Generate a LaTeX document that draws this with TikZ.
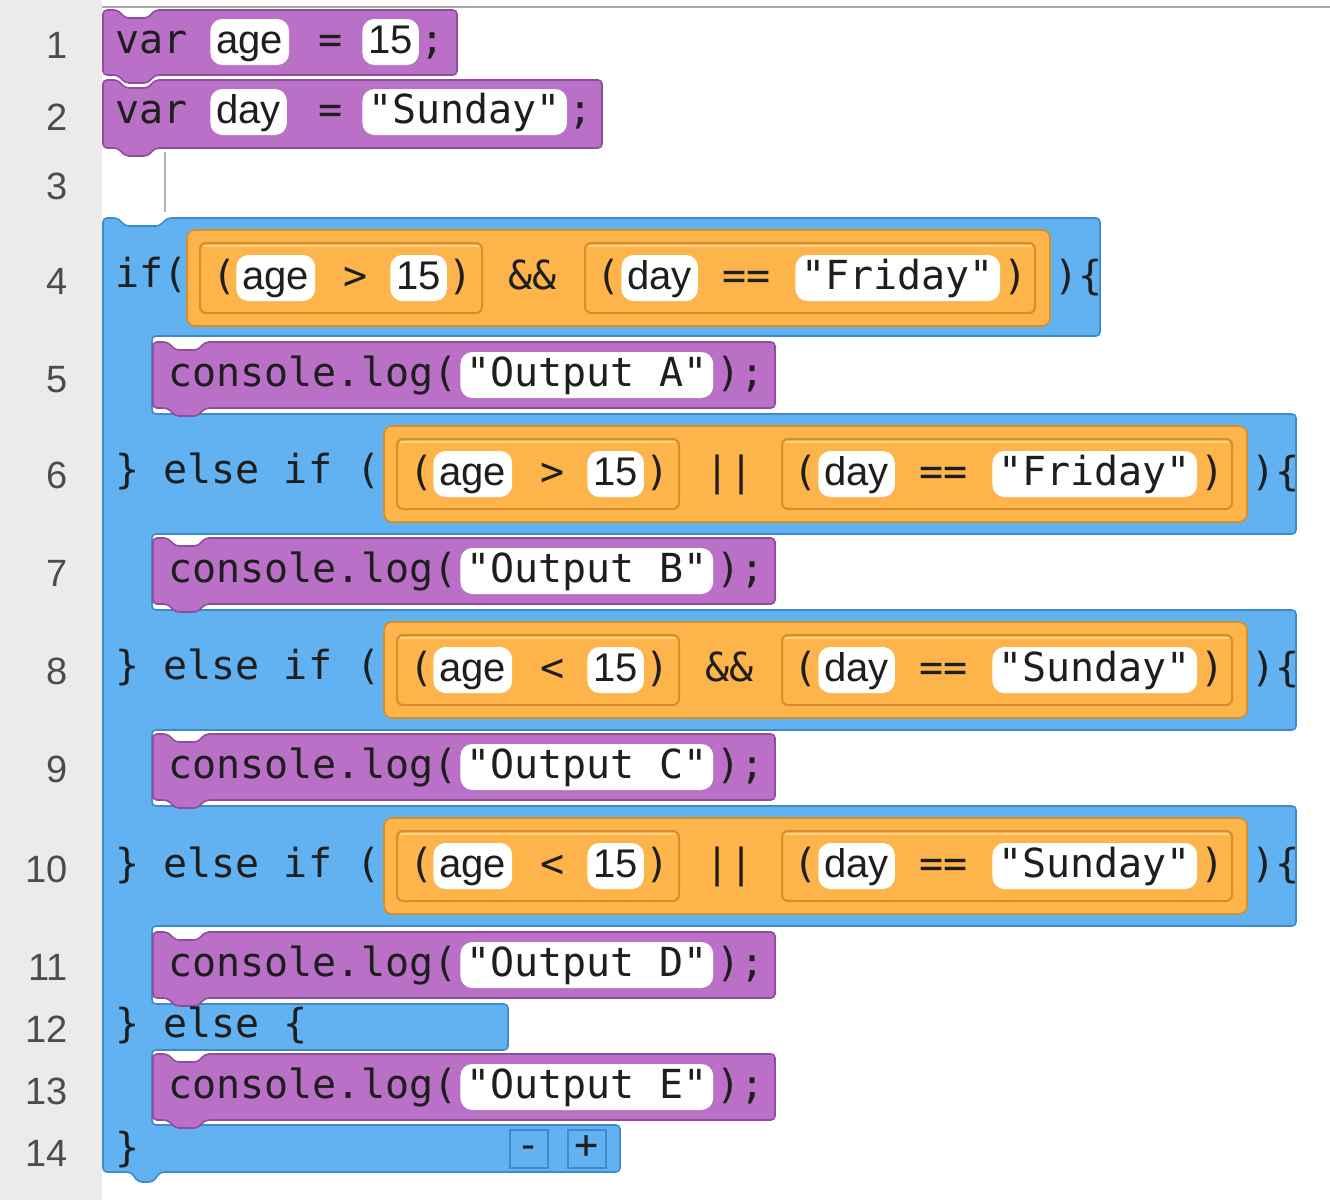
\documentclass[tikz,border=0pt]{standalone}
\usepackage{fontspec}
\setmainfont{Liberation Sans}
\newfontfamily\codef{DejaVu Sans Mono}
\definecolor{pur}{HTML}{BA70C7}
\definecolor{purd}{HTML}{8F4E9C}
\definecolor{blu}{HTML}{62B2F2}
\definecolor{blud}{HTML}{3D8BCB}
\definecolor{org}{HTML}{FDB44B}
\definecolor{orgd}{HTML}{D48E2A}
\definecolor{orgl}{HTML}{FFD08A}
\definecolor{gut}{HTML}{EBEBEB}
\definecolor{txt}{HTML}{1E1E1E}
\tikzset{
 code/.style={font=\codef\fontsize{20}{24}\selectfont, inner sep=0pt, text height=15pt, text depth=4pt, anchor=west, text=txt},
 fld/.style={font=\fontsize{20}{24}\selectfont, fill=white, rounded corners=6pt, inner xsep=3pt, inner ysep=2pt, text height=15pt, text depth=4pt, anchor=west, text=txt},
 sfld/.style={fld, font=\codef\fontsize{20}{24}\selectfont},
 lnum/.style={font=\fontsize{19}{22}\selectfont, text=black!70, anchor=east, inner sep=0pt, text height=14pt, text depth=0pt},
}
\newcommand\pblk[4]{% x1 y1 x2 y2
 \filldraw[fill=pur, draw=purd, line width=0.8pt, rounded corners=2pt] (#1,#2) -- ({#1+15},#2) -- ({#1+22},{#2+8}) -- ({#1+45},{#2+8}) -- ({#1+52},#2) -- (#3,#2) -- (#3,#4) -- ({#1+52},#4) -- ({#1+45},{#4+8}) -- ({#1+22},{#4+8}) -- ({#1+15},#4) -- (#1,#4) -- cycle;}
\newcommand\consl[3]{% id, center y, label
 \pblk{153}{#2-33}{775}{#2+33}
 \node[code] (cl#1) at (168,#2) {console.log(};
 \node[sfld] (cs#1) at (460,#2) {"Output #3"};
 \node[code] (ce#1) at (716,#2) {);};}
\newcommand\ibox[4]{%
 \filldraw[fill=org, draw=orgd, line width=1pt, rounded corners=3pt] (#1,#2) rectangle (#3,#4);
 \draw[orgl, line width=1.2pt] ({#1+3},{#2+3}) -- ({#3-3},{#2+3});}
\newcommand\cond[6]{% id, center y, dx, cmp, logop, string
 \filldraw[fill=org, draw=orgd, line width=0.8pt, rounded corners=4pt] ({187+#3},{#2-48}) rectangle ({1050+#3},{#2+48});
 \ibox{200+#3}{#2-35}{482+#3}{#2+35}
 \ibox{585+#3}{#2-35}{1035+#3}{#2+35}
 \node[code] (a#1) at ({212+#3},#2) {(};
 \node[fld] (b#1) at ({236+#3},#2) {age};
 \node[code] (c#1) at ({343+#3},#2) {#4};
 \node[fld] (d#1) at ({390+#3},#2) {15};
 \node[code] (e#1) at ({448+#3},#2) {)};
 \node[code] (f#1) at ({508+#3},#2) {#5};
 \node[code] (g#1) at ({596+#3},#2) {(};
 \node[fld] (h#1) at ({621+#3},#2) {day};
 \node[code] (i#1) at ({722+#3},#2) {==};
 \node[sfld] (j#1) at ({795+#3},#2) {"#6"};
 \node[code] (k#1) at ({1003+#3},#2) {)};
 \node[code] (l#1) at ({1054+#3},#2) {)\{};}
\begin{document}
\begin{tikzpicture}[x=0.5pt,y=-0.5pt]
\useasboundingbox (0,0) rectangle (1330,1200);
\fill[white] (0,0) rectangle (1330,1200);
\fill[gut] (0,0) rectangle (102,1200);
\draw[black!35, line width=1pt] (102,7) -- (1330,7);
% line numbers
\foreach \n/\y in {1/44,2/116,3/185,4/280,5/378,6/474,7/572,8/670,9/768,10/868,11/966,12/1028,13/1090,14/1152}
 \node[lnum] (n\n) at (68,\y) {\n};
% line 3 gap outline
\draw[black!30, line width=1pt] (165,152) -- (165,212);
% blue if block
\filldraw[fill=blu, draw=blud, line width=0.8pt, rounded corners=2pt]
 (103,218) -- (118,218) -- (125,226) -- (160,226) -- (167,218) -- (1100,218) -- (1100,336)
 -- (152,336) -- (152,414) -- (1296,414) -- (1296,534)
 -- (152,534) -- (152,610) -- (1296,610) -- (1296,730)
 -- (152,730) -- (152,806) -- (1296,806) -- (1296,926)
 -- (152,926) -- (152,1004) -- (508,1004) -- (508,1050)
 -- (152,1050) -- (152,1125) -- (620,1125) -- (620,1172)
 -- (160,1172) -- (153,1182) -- (138,1182) -- (131,1172) -- (103,1172) -- cycle;
% var blocks
\pblk{103}{10}{457}{75}
\node[code] (v1) at (115,42) {var};
\node[fld] (v1a) at (210,42) {age};
\node[code] (v1e) at (318,42) {=};
\node[fld] (v1n) at (362,42) {15};
\node[code] (v1s) at (420,42) {;};
\pblk{103}{80}{602}{148}
\node[code] (v2) at (115,112) {var};
\node[fld] (v2a) at (210,112) {day};
\node[code] (v2e) at (318,112) {=};
\node[sfld] (v2n) at (362,112) {"Sunday"};
\node[code] (v2s) at (568,112) {;};
% if rows
\node[code] (if4) at (115,276) {if(};
\cond{4}{278}{0}{>}{\&\&}{Friday}
\node[code] (if6) at (115,472) {\} else if (};
\cond{6}{474}{197}{>}{||}{Friday}
\node[code] (if8) at (115,668) {\} else if (};
\cond{8}{670}{197}{<}{\&\&}{Sunday}
\node[code] (if10) at (115,866) {\} else if (};
\cond{10}{866}{197}{<}{||}{Sunday}
% console logs
\consl{5}{375}{A}
\consl{7}{571}{B}
\consl{9}{767}{C}
\consl{11}{965}{D}
\consl{13}{1087}{E}
\node[code] (el) at (115,1026) {\} else \{};
\node[code] (cb) at (115,1150) {\}};
% buttons
\filldraw[fill=blu, draw=blud, line width=1pt] (510,1130) rectangle (548,1168);
\filldraw[fill=blu, draw=blud, line width=1pt] (568,1130) rectangle (606,1168);
\node[code, anchor=center] (bm) at (529,1147) {-};
\node[code, anchor=center] (bp) at (587,1147) {+};
\end{tikzpicture}
\end{document}
